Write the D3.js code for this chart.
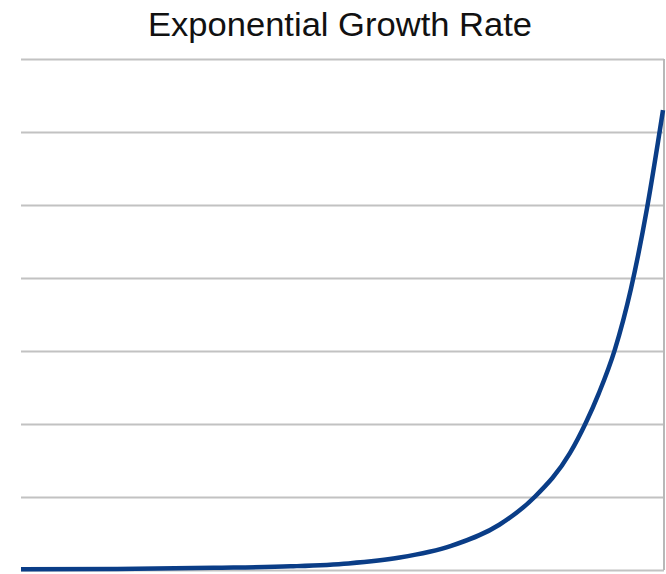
<!DOCTYPE html>
<html>
<head>
<meta charset="utf-8">
<script src="https://cdnjs.cloudflare.com/ajax/libs/d3/7.8.5/d3.min.js"></script>
<style>
  html, body { margin: 0; padding: 0; background: #fff; }
  svg { display: block; }
</style>
</head>
<body>
<div id="chart"></div>
<script>
    "use strict";

    // values (x in percent of the run, y in gridline units)
    var times = [0, 15, 30, 42, 51, 59, 67, 74.5, 80, 85.5, 88, 90, 92.5, 95, 97.5, 99.2, 100];
    var growth = [0.01, 0.015, 0.03, 0.05, 0.09, 0.17, 0.33, 0.62, 1.0, 1.6, 2.02, 2.42, 3.02, 3.85, 4.95, 5.85, 6.3];
    var gridTicks = [0, 1, 2, 3, 4, 5, 6, 7];
    var title = "Exponential Growth Rate";

    var width = 666, height = 574,
        margin = {top: 59, right: 1, bottom: 4, left: 21};

    var svg = d3.select("#chart").append("svg")
        .attr("width", width)
        .attr("height", height);

    var x = d3.scaleLinear().domain([0, 100])
        .range([margin.left, width - margin.right - 2]);
    var y = d3.scaleLinear().domain([0, 7])
        .range([height - margin.bottom, margin.top]);

    // title
    svg.append("text")
        .attr("x", 340)
        .attr("y", 36)
        .attr("text-anchor", "middle")
        .attr("font-family", "Liberation Sans, Arial, sans-serif")
        .attr("font-size", 34)
        .attr("textLength", 384)
        .attr("lengthAdjust", "spacingAndGlyphs")
        .attr("fill", "#111")
        .text(title);

    // horizontal grid
    var grid = d3.axisLeft(y)
        .tickValues(gridTicks)
        .tickSize(-(x.range()[1] - margin.left + 1))
        .tickFormat("");

    var g = svg.append("g")
        .attr("transform", "translate(" + margin.left + ",0)")
        .call(grid);
    g.select(".domain").remove();
    g.selectAll(".tick line")
        .attr("stroke", "#c2c2c2")
        .attr("stroke-width", 2);

    // right frame line
    svg.append("line")
        .attr("x1", x.range()[1] + 1).attr("x2", x.range()[1] + 1)
        .attr("y1", y(7)).attr("y2", y(0))
        .attr("stroke", "#b8b8b8")
        .attr("stroke-width", 2);

    // curve
    var line = d3.line()
        .x(function (d, i) { return x(times[i]); })
        .y(function (d) { return y(d); })
        .curve(d3.curveMonotoneX);

    svg.append("path")
        .datum(growth)
        .attr("d", line)
        .attr("fill", "none")
        .attr("stroke", "#0a3d87")
        .attr("stroke-width", 4.5);
</script>
</body>
</html>
